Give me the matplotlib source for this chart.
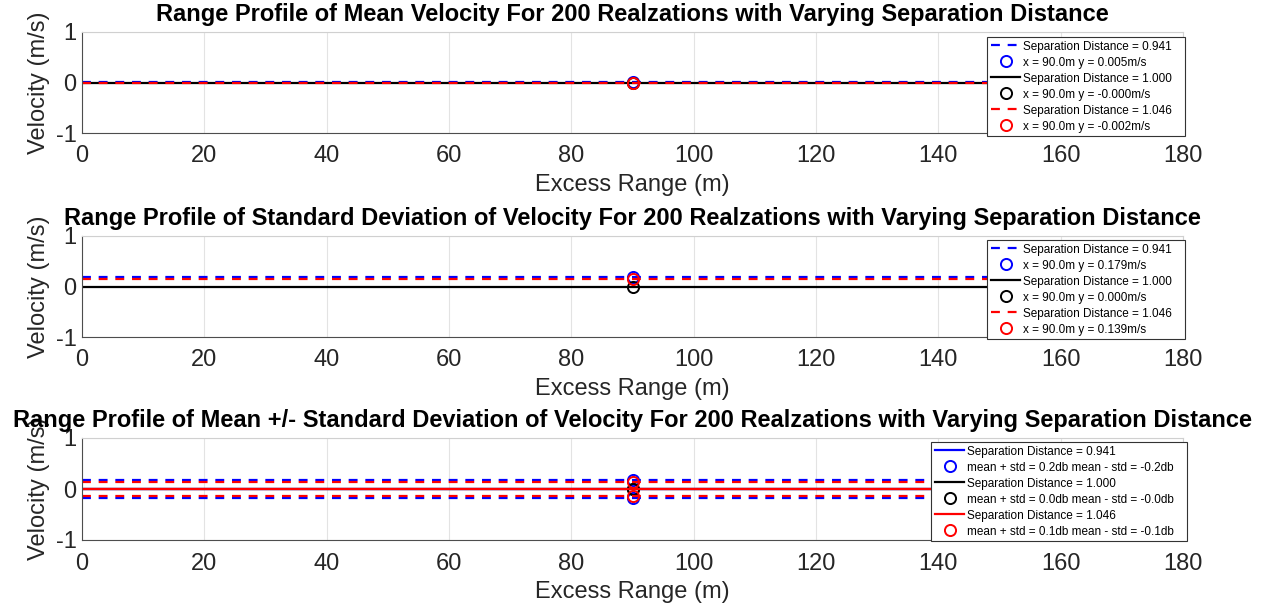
import matplotlib
matplotlib.use('Agg')
import matplotlib.pyplot as plt

plt.rcParams['font.family'] = ['Liberation Sans', 'DejaVu Sans']
plt.rcParams['axes.unicode_minus'] = False

# excess range span (m)
x_range = [0, 180]
x_probe = 90.0

separations = ['0.941', '1.000', '1.046']
colors = ['blue', 'black', 'red']
styles = ['--', '-', '--']

mean_vel = [0.005, -0.000, -0.002]
std_vel = [0.179, 0.000, 0.139]
# mean + std / mean - std as shown in the legend
plus_std = [0.2, 0.0, 0.1]
minus_std = [-0.2, -0.0, -0.1]

titles = [
    'Range Profile of Mean Velocity For 200 Realzations with Varying Separation Distance',
    'Range Profile of Standard Deviation of Velocity For 200 Realzations with Varying Separation Distance',
    'Range Profile of Mean +/- Standard Deviation of Velocity For 200 Realzations with Varying Separation Distance',
]

W, H = 1270, 607
fig = plt.figure(figsize=(W / 100, H / 100), dpi=100)

left, right = 82 / W, 1183 / W
tops = [32, 236, 438]
bottoms = [133, 337, 540]
legend_pos = [(1185, 37), (1185, 240), (1187, 442)]


def style_axes(ax, title):
    ax.set_xlim(0, 180)
    ax.set_ylim(-1, 1)
    ax.set_xticks(range(0, 181, 20))
    ax.set_yticks([-1, 0, 1])
    ax.grid(True, color='#e3e3e3', linewidth=0.8)
    ax.set_axisbelow(True)
    for s in ['left', 'bottom']:
        ax.spines[s].set_color('#4d4d4d')
    for s in ['top', 'right']:
        ax.spines[s].set_color('#d0d0d0')
    ax.tick_params(labelsize=17, colors='#262626', length=0)
    ax.tick_params(axis='x', pad=9)
    ax.tick_params(axis='y', pad=4)
    ax.set_xlabel('Excess Range (m)', fontsize=17, color='#262626', labelpad=5)
    ax.set_ylabel('Velocity (m/s)', fontsize=17, color='#262626', labelpad=4)
    ax.set_title(title, fontsize=17, fontweight='bold', pad=8)


def add_legend(ax, pos, handles, labels):
    # trailing spaces give the wider right margin of the original legend box
    labels = [s + '   ' for s in labels]
    leg = ax.legend(handles, labels, loc='upper right',
                    bbox_to_anchor=(pos[0] / W, 1 - pos[1] / H),
                    bbox_transform=fig.transFigure, borderaxespad=0,
                    fontsize=8.5, labelspacing=0.34, handlelength=2.5,
                    handletextpad=0.2, borderpad=0.3, fancybox=False,
                    framealpha=1, edgecolor='#333333')
    leg.get_frame().set_linewidth(0.8)


axes = []
for i in range(3):
    b = 1 - bottoms[i] / H
    t = 1 - tops[i] / H
    axes.append(fig.add_axes([left, b, right - left, t - b]))

# panel 1: mean
ax = axes[0]
handles, labels = [], []
for k in range(3):
    ln, = ax.plot(x_range, [mean_vel[k]] * 2, styles[k], color=colors[k], lw=1.6,
                  dashes=(4, 3.5) if styles[k] == '--' else (None, None))
    mk, = ax.plot([x_probe], [mean_vel[k]], 'o', mfc='none', mec=colors[k], ms=8, mew=1.4)
    handles += [ln, mk]
    labels += ['Separation Distance = ' + separations[k],
               'x = %.1fm y = %.3fm/s' % (x_probe, mean_vel[k])]
labels[3] = 'x = 90.0m y = -0.000m/s'
style_axes(ax, titles[0])
add_legend(ax, legend_pos[0], handles, labels)

# panel 2: std
ax = axes[1]
handles, labels = [], []
for k in range(3):
    ln, = ax.plot(x_range, [std_vel[k]] * 2, styles[k], color=colors[k], lw=1.6,
                  dashes=(4, 3.5) if styles[k] == '--' else (None, None))
    mk, = ax.plot([x_probe], [std_vel[k]], 'o', mfc='none', mec=colors[k], ms=8, mew=1.4)
    handles += [ln, mk]
    labels += ['Separation Distance = ' + separations[k],
               'x = %.1fm y = %.3fm/s' % (x_probe, std_vel[k])]
style_axes(ax, titles[1])
add_legend(ax, legend_pos[1], handles, labels)

# panel 3: mean +/- std
ax = axes[2]
handles, labels = [], []
for k in range(3):
    ln, = ax.plot(x_range, [mean_vel[k]] * 2, '-', color=colors[k], lw=1.6)
    up = mean_vel[k] + std_vel[k]
    dn = mean_vel[k] - std_vel[k]
    if std_vel[k] > 0:
        ax.plot(x_range, [up] * 2, '--', color=colors[k], lw=1.6, dashes=(4, 3.5))
        ax.plot(x_range, [dn] * 2, '--', color=colors[k], lw=1.6, dashes=(4, 3.5))
    mk, = ax.plot([x_probe, x_probe], [up, dn], 'o', mfc='none', mec=colors[k], ms=8, mew=1.4)
    handles += [ln, mk]
    labels += ['Separation Distance = ' + separations[k],
               'mean + std = %.1fdb mean - std = %.1fdb' % (plus_std[k], minus_std[k])]
style_axes(ax, titles[2])
add_legend(ax, legend_pos[2], handles, labels)

fig.savefig('out.png', dpi=100)
